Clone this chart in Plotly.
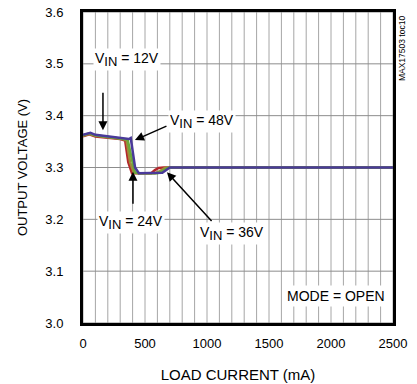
import plotly.graph_objects as go

# data (mA, V)
x_red = [0, 50, 100, 200, 300, 340, 365, 395, 450, 550, 580, 610, 650, 700, 1000, 2500]
y_red = [3.360, 3.364, 3.360, 3.358, 3.355, 3.352, 3.31, 3.289, 3.289, 3.289, 3.295, 3.299, 3.300, 3.300, 3.300, 3.300]
x_brown = [0, 50, 100, 200, 300, 350, 380, 410, 450, 580, 620, 660, 700, 2500]
y_brown = [3.361, 3.365, 3.361, 3.358, 3.356, 3.353, 3.31, 3.290, 3.289, 3.289, 3.293, 3.299, 3.300, 3.300]
x_green = [0, 50, 100, 200, 300, 360, 390, 420, 460, 600, 640, 680, 720, 2500]
y_green = [3.362, 3.366, 3.362, 3.359, 3.356, 3.354, 3.32, 3.290, 3.289, 3.289, 3.293, 3.299, 3.300, 3.300]
x_blue = [0, 60, 100, 200, 300, 370, 385, 420, 450, 600, 640, 700, 2500]
y_blue = [3.363, 3.367, 3.363, 3.360, 3.357, 3.355, 3.357, 3.30, 3.289, 3.289, 3.290, 3.300, 3.300]

x_ticks = [0, 500, 1000, 1500, 2000, 2500]
x_grid = list(range(0, 2501, 100))
y_ticks = [3.0, 3.1, 3.2, 3.3, 3.4, 3.5, 3.6]

series = [
    (x_red, y_red, "#b3262b"),
    (x_brown, y_brown, "#a08a3a"),
    (x_green, y_green, "#6aaa3a"),
    (x_blue, y_blue, "#4a3a9a"),
]

fig = go.Figure()
for xs, ys, c in series:
    fig.add_trace(go.Scatter(x=xs, y=ys, mode="lines", line=dict(color=c, width=2.5),
                             showlegend=False, hoverinfo="skip"))

FAM = "Liberation Sans, Arial, sans-serif"
tickfont = dict(family=FAM, size=13, color="black")
lab = dict(family=FAM, size=14, color="black")

# grid lines as layout shapes
grid_color = "#a6a6a6"
for gx in x_grid:
    fig.add_vline(x=gx, line=dict(color=grid_color, width=1), layer="below")
for gy in y_ticks:
    fig.add_hline(y=gy, line=dict(color="#8c8c8c", width=1), layer="below")

fig.update_layout(
    template="none",
    width=417, height=384,
    margin=dict(l=83, r=24, t=12, b=61),
    paper_bgcolor="white", plot_bgcolor="white",
    font=tickfont,
    xaxis=dict(range=[0, 2500], tickmode="array", tickvals=x_ticks, ticks="", showline=True,
               mirror=True, linecolor="black", linewidth=3, showgrid=False, zeroline=False,
               ticklabelstandoff=6,
               title=dict(text="LOAD CURRENT (mA)", font=dict(family=FAM, size=15, color="black"),
                          standoff=20),
               tickfont=tickfont),
    yaxis=dict(range=[3.0, 3.6], tickmode="array", tickvals=y_ticks,
               ticktext=[f"{v:.1f}" for v in y_ticks], ticks="", showline=True, mirror=True,
               linecolor="black", linewidth=3, showgrid=False, zeroline=False,
               ticklabelstandoff=14,
               title=dict(text="OUTPUT VOLTAGE (V)", font=dict(family=FAM, size=13, color="black"),
                          standoff=15),
               tickfont=tickfont),
)

def arrow_label(text, tx, ty, ax, ay, hx, hy):
    fig.add_annotation(x=tx, y=ty, xref="x", yref="y", text=text, showarrow=False,
                       font=lab, bgcolor="white", borderpad=1)
    fig.add_annotation(x=hx, y=hy, ax=ax, ay=ay, xref="x", yref="y", axref="x", ayref="y",
                       text="", showarrow=True, arrowhead=2, arrowsize=1.2, arrowwidth=1.5,
                       arrowcolor="black")

def vin(v):
    return f"V<sub><span style='font-size:13px'>IN</span></sub> = {v}V"

arrow_label(vin(12), 355, 3.509, 161, 3.447, 161, 3.372)
arrow_label(vin(48), 960, 3.388, 685, 3.381, 419, 3.353)
arrow_label(vin(24), 387, 3.194, 403, 3.227, 403, 3.292)
arrow_label(vin(36), 1202, 3.173, 1048, 3.194, 677, 3.291)

fig.add_annotation(x=2460, y=3.03, xref="x", yref="y", text="MODE = OPEN", showarrow=False,
                   font=lab, bgcolor="white", xanchor="right", yanchor="bottom", borderpad=2)
fig.add_annotation(x=1.029, y=0.995, xref="x domain", yref="y domain", text="MAX17503 toc10",
                   showarrow=False, textangle=-90, xanchor="center", yanchor="top",
                   font=dict(family=FAM, size=8.5, color="black"))

fig.write_html("out.html")
